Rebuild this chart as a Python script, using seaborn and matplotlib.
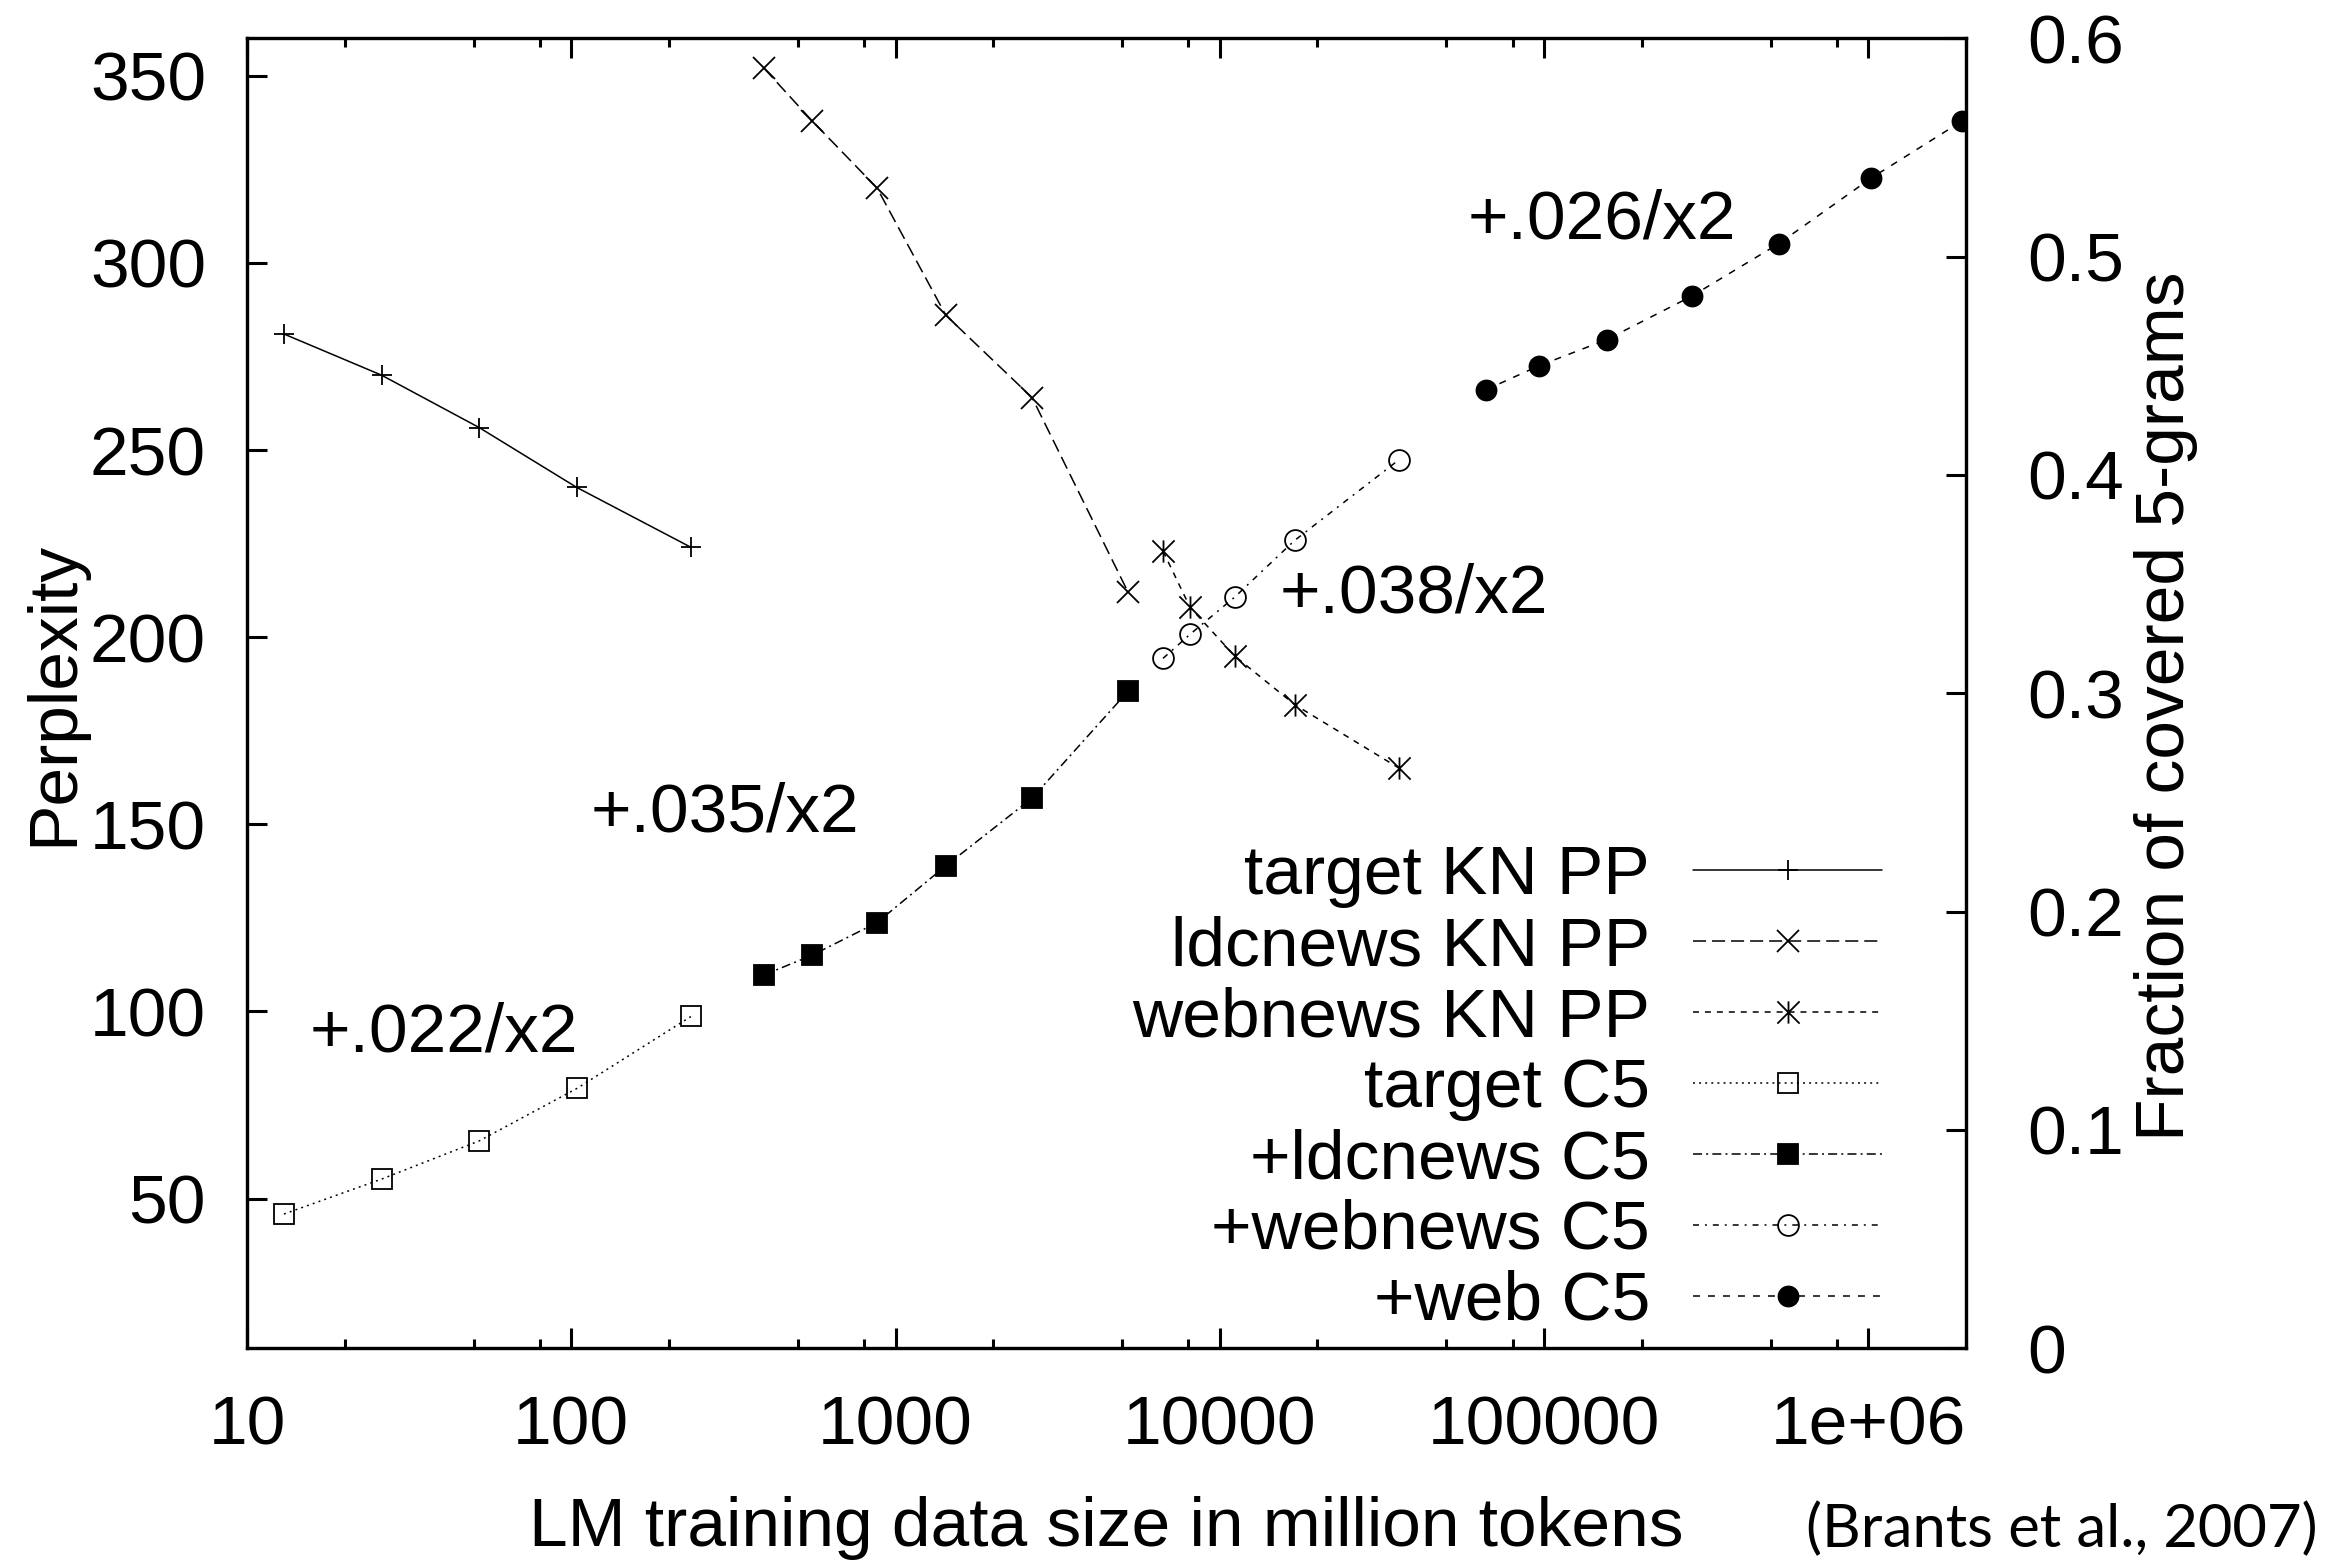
import seaborn as sns
import matplotlib.pyplot as plt
from matplotlib.path import Path
from matplotlib.ticker import FixedLocator, NullFormatter

# 数据
target_x = [13, 26, 52, 104, 234]
ldcnews_x = [393, 552, 877, 1429, 2637, 5213]
webnews_x = [6680, 8090, 11100, 17000, 35700]
web_x = [66100, 96400, 156000, 286000, 530000, 1020000, 1940000]

target_pp = [281, 270, 256, 240, 224]
ldcnews_pp = [352, 338, 320, 286, 264, 212]
webnews_pp = [223, 208, 195, 182, 165]

target_c5 = [0.0615, 0.0775, 0.095, 0.119, 0.152]
ldcnews_c5 = [0.171, 0.180, 0.195, 0.221, 0.252, 0.301]
webnews_c5 = [0.316, 0.327, 0.344, 0.370, 0.407]
web_c5 = [0.439, 0.450, 0.462, 0.482, 0.506, 0.536, 0.562]

x_ticks = [10, 100, 1000, 10000, 100000, 1000000]
x_tick_labels = ['10', '100', '1000', '10000', '100000', '1e+06']
pp_ticks = [50, 100, 150, 200, 250, 300, 350]
c5_ticks = [0, 0.1, 0.2, 0.3, 0.4, 0.5, 0.6]
c5_tick_labels = ['0', '0.1', '0.2', '0.3', '0.4', '0.5', '0.6']

notes = ['+.026/x2', '+.038/x2', '+.035/x2', '+.022/x2']
note_x = [58200, 15300, 115, 15.6]
note_y = [306.6, 206.7, 148.2, 89.4]

sns.set_style('ticks')
plt.rcParams['font.family'] = ['Liberation Sans', 'DejaVu Sans']
plt.rcParams['lines.scale_dashes'] = False
for k in ['axes.edgecolor', 'text.color', 'xtick.color', 'ytick.color', 'axes.labelcolor']:
    plt.rcParams[k] = 'black'

FS = 50

# 星号标记: 竖线 + X
star = Path([(0, -1), (0, 1), (-1, -1), (1, 1), (-1, 1), (1, -1)],
            [Path.MOVETO, Path.LINETO, Path.MOVETO, Path.LINETO, Path.MOVETO, Path.LINETO])

fig = plt.figure(figsize=(23.48, 15.6), dpi=100)
ax = fig.add_axes([0.1052, 0.1357, 0.73211, 0.83974])
ax.set_xscale('log')
ax2 = ax.twinx()


def draw(a, x, y, label, marker, ls, ms, filled=True):
    sns.lineplot(x=x, y=y, ax=a, color='black', label=label, legend=False,
                 marker=marker, linestyle=ls, lw=1.1, ms=ms, mec='black',
                 mfc='black' if filled else 'none', mew=1.3)


draw(ax, target_x, target_pp, 'target KN PP', '+', '-', 14.4)
draw(ax, ldcnews_x, ldcnews_pp, 'ldcnews KN PP', 'x', (0, (9.4, 4.3)), 16)
draw(ax, webnews_x, webnews_pp, 'webnews KN PP', star, (0, (4.3, 4.3)), 16)
draw(ax2, target_x, target_c5, 'target C5', 's', (0, (1.4, 3.0)), 15, filled=False)
draw(ax2, ldcnews_x, ldcnews_c5, '+ldcnews C5', 's', (0, (6.5, 3, 1.4, 3)), 15)
draw(ax2, webnews_x, webnews_c5, '+webnews C5', 'o', (0, (4.3, 4.3, 1.4, 4.3)), 15, filled=False)
draw(ax2, web_x, web_c5, '+web C5', 'o', (0, (5, 5.8)), 14.4)

ax.set_xlim(10, 2e6)
ax.set_ylim(10, 360)
ax2.set_ylim(0, 0.6)

ax.set_xticks(x_ticks, x_tick_labels)
ax.xaxis.set_minor_locator(FixedLocator([m * 10 ** k for k in range(1, 7) for m in (2, 5, 8)]))
ax.xaxis.set_minor_formatter(NullFormatter())
ax.set_yticks(pp_ticks, [str(v) for v in pp_ticks])
ax2.set_yticks(c5_ticks, c5_tick_labels)

ax.tick_params(axis='x', which='both', direction='in', top=True, bottom=True,
               labelsize=FS, pad=33, width=2.2)
ax.tick_params(axis='x', which='major', length=14.4)
ax.tick_params(axis='x', which='minor', length=6.5)
ax.tick_params(axis='y', direction='in', left=True, right=False, length=14.4,
               width=2.2, pad=29.5, labelsize=FS)
ax2.tick_params(axis='y', direction='in', right=True, left=False, length=14.4,
                width=2.2, pad=44, labelsize=FS)

for a in (ax, ax2):
    for s in a.spines.values():
        s.set_visible(True)
        s.set_linewidth(2.3)

ax.set_xlabel('LM training data size in million tokens', fontsize=FS)
ax.xaxis.set_label_coords(0.5, -0.1127)
ax.set_ylabel('Perplexity', fontsize=FS)
ax.yaxis.set_label_coords(-0.0935, 0.5)
ax2.set_ylabel('Fraction of covered 5-grams', fontsize=FS)
ax2.yaxis.set_label_coords(1.0977, 0.49)

for t, x, y in zip(notes, note_x, note_y):
    ax.text(x, y, t, fontsize=FS, ha='left', va='baseline')

h1, l1 = ax.get_legend_handles_labels()
h2, l2 = ax2.get_legend_handles_labels()
ax2.legend(h1 + h2, l1 + l2, loc='lower right', bbox_to_anchor=(0.9511, 0.011),
           frameon=False, markerfirst=False, fontsize=FS, handlelength=2.72,
           handletextpad=0.62, labelspacing=0.10, borderpad=0, borderaxespad=0,
           numpoints=1)

fig.text(0.9872, 0.0083, '(Brants et al., 2007)', ha='right', va='baseline',
         fontsize=43, family=['Lato', 'DejaVu Sans'])

fig.savefig('out.png', dpi=100)
